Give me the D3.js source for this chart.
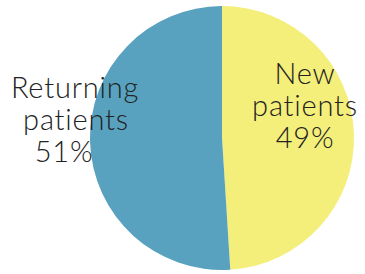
<html>
<head>
    <script src="https://d3js.org/d3.v7.min.js"></script>
    <style>
        body { margin: 0; background: #fff; }
        .sliceLabel {
            font-family: Lato, sans-serif;
            font-weight: 300;
            font-size: 29px;
            letter-spacing: 0.8px;
            fill: #222;
        }
    </style>
</head>
<body>
<svg id="pie" width="365" height="274"></svg>
<script>
    // chart data
    const categories = ["New patients", "Returning patients"];
    const shares = [49, 51];
    const labelLines = [["New", "patients", "49%"], ["Returning", "patients", "51%"]];

    const svg = d3.select("#pie");
    const cx = 222, cy = 138, radius = 132;

    const color = d3.scaleOrdinal().domain(categories).range(["#f4ee7a", "#58a2bf"]);

    const pie = d3.pie().sort(null).value(d => d.value);
    const arcs = pie(categories.map((c, i) => ({name: c, value: shares[i]})));
    const arc = d3.arc().innerRadius(0).outerRadius(radius);

    const g = svg.append("g").attr("transform", "translate(" + cx + "," + cy + ")");

    g.selectAll("path").data(arcs)
        .join("path")
        .attr("d", arc)
        .attr("fill", d => color(d.data.name));

    // per-line x centers and baselines for each label block
    const labelX = [[305, 305, 305], [75, 76, 64]];
    const labelY = [[84, 116, 148], [98, 130, 162]];

    labelLines.forEach((lines, i) => {
        svg.selectAll(".lbl" + i).data(lines)
            .join("text")
            .attr("class", "sliceLabel lbl" + i)
            .attr("text-anchor", "middle")
            .attr("x", (d, j) => labelX[i][j])
            .attr("y", (d, j) => labelY[i][j])
            .text(d => d);
    });
</script>
</body>
</html>
